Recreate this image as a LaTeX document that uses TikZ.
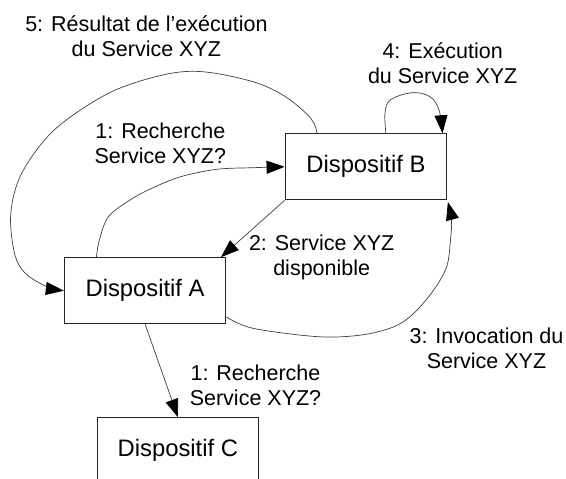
\documentclass[tikz,border=0pt]{standalone}
\usepackage{fontspec}
\setmainfont{Liberation Sans}
\usetikzlibrary{arrows.meta}
\begin{document}
\begin{tikzpicture}[x=1pt,y=-1pt,
  box/.style={draw=black!85, line width=1.1pt, minimum width=161.5pt, minimum height=66pt, inner sep=0pt, font=\fontsize{23.8}{28}\selectfont},
  lbl/.style={align=center, inner sep=0pt, font=\fontsize{21.5}{25}\selectfont},
  conn/.style={draw=black!75, line width=0.7pt},
  arr/.style={conn, -{Triangle[length=18pt,width=13pt,color=black]}}]
\useasboundingbox (0,0) rectangle (566,479);
\fill[white] (0,0) rectangle (566,479);
\clip (0,0) rectangle (566,479);
% boxes
\node[box] (B) at (365.9,166.8) {Dispositif B};
\node[box] (A) at (145.1,290.7) {Dispositif A};
\node[box] (C) at (177.9,450.7) {Dispositif C};
% labels
\node[lbl] (l5) at (146.4,36.5) {5: Résultat de l’exécution\\du Service XYZ};
\node[lbl] (l4) at (442.7,62.8) {4: Exécution\\du Service XYZ};
\node[lbl] (l1a) at (160.3,143) {1: Recherche\\Service XYZ?};
\node[lbl] (l2) at (321.7,257.9) {2: Service XYZ\\disponible};
\node[lbl] (l3) at (486.5,348.7) {3: Invocation du\\Service XYZ};
\node[lbl] (l1b) at (255.5,385.7) {1: Recherche\\Service XYZ?};
% 5: B -> A (big outer curve)
\draw[arr] plot[smooth, tension=0.55] coordinates {([xshift=32.5pt]B.north west) (310.8,118.3) (285.5,96.7) (253,81.7) (202.4,71.7) (162.6,75) (108.4,93.3) (54.2,130) (21.7,173.3) (10.8,213.3) (14.5,253.3) (25.3,273.3) (47,286.7) (A.west)};
% 1: A -> B
\draw[arr] plot[smooth, tension=0.55] coordinates {([xshift=32.6pt]A.north west) (99.4,240) (108.4,216.7) (130,200) (151.8,188.3) (180.7,176.7) (216.8,169.3) (253,167.7) (B.west)};
% 2: B -> A
\draw[arr] (B.south west) -- ([xshift=-5.4pt]A.north east);
% 3: A -> B
\draw[arr] plot[smooth, tension=0.55] coordinates {([yshift=7.3pt]A.south east) (253,328.3) (318,336.7) (361.4,335) (394,326.7) (413.8,313.3) (433.7,290) (446.7,266.7) (450.5,240) (451.5,220) ([shift={(0.7pt,-1.7pt)}]B.south east)};
% 4: self loop on B
\draw[arr] plot[smooth, tension=0.6] coordinates {([xshift=20pt]B.north) (385,113.3) (390.3,100) (412,92.7) (430,96.7) (439,110) ([xshift=-4.7pt]B.north east)};
% 1: A -> C
\draw[arr] (A.south) -- (C.north);
\end{tikzpicture}
\end{document}
